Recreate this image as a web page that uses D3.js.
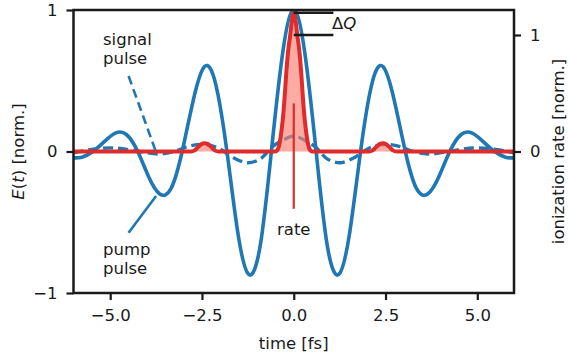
<!DOCTYPE html>
<html><head><meta charset="utf-8">
<script src="https://cdn.jsdelivr.net/npm/d3@7"></script>
<style>
body{margin:0;background:#fff}
svg{display:block}
text{font-family:"DejaVu Sans",sans-serif;fill:#1a1a1a}
</style>
</head><body>
<svg id="c" width="568" height="357"></svg>
<script>
// ---- data ----
const pumpTime  = [-6.0,-5.77,-5.47,-5.16,-4.86,-4.56,-4.25,-3.95,-3.65,-3.34,-3.04,-2.73,-2.43,-2.13,-1.82,-1.52,-1.22,-0.91,-0.61,-0.30,0,
                   0.30,0.61,0.91,1.22,1.52,1.82,2.13,2.43,2.73,3.04,3.34,3.65,3.95,4.25,4.56,4.86,5.16,5.47,5.77,6.0];
const pumpField = [-0.045,-0.04,0,0.07,0.13,0.12,0,-0.18,-0.30,-0.26,0,0.37,0.60,0.48,0,-0.58,-0.87,-0.66,0,0.70,1.0,
                   0.70,0,-0.66,-0.87,-0.58,0,0.48,0.60,0.37,0,-0.26,-0.30,-0.18,0,0.12,0.13,0.07,0,-0.04,-0.045];

const signalTime  = [-6.0,-5.5,-4.9,-4.2,-3.65,-3.2,-2.9,-2.5,-2.1,-1.9,-1.6,-1.25,-0.9,-0.6,-0.3,0,
                     0.3,0.6,0.9,1.25,1.6,1.9,2.1,2.5,2.9,3.2,3.65,4.2,4.9,5.5,6.0];
const signalField = [-0.01,0.015,0.025,0.0,-0.018,0.005,0.035,0.05,0.03,0.0,-0.05,-0.08,-0.05,0.03,0.08,0.11,
                     0.08,0.03,-0.05,-0.08,-0.05,0.0,0.03,0.05,0.035,0.005,-0.018,0.0,0.025,0.015,-0.01];

const rateTime  = [-6.0,-2.8,-2.7,-2.6,-2.5,-2.43,-2.35,-2.25,-2.15,-2.05,-0.5,-0.45,-0.4,-0.35,-0.3,-0.25,-0.2,-0.15,-0.1,-0.05,0,
                   0.05,0.1,0.15,0.2,0.25,0.3,0.35,0.4,0.45,0.5,2.05,2.15,2.25,2.35,2.43,2.5,2.6,2.7,2.8,6.0];
const rateValue = [0,0,0.01,0.04,0.065,0.07,0.065,0.04,0.01,0,0,0.01,0.05,0.14,0.27,0.46,0.69,0.87,0.99,1.12,1.19,
                   1.12,0.99,0.87,0.69,0.46,0.27,0.14,0.05,0.01,0,0,0.01,0.04,0.065,0.07,0.065,0.04,0.01,0,0];

const xTicks = [-5,-2.5,0,2.5,5];
const xTickLabels = ["−5.0","−2.5","0.0","2.5","5.0"];
const yLeftTicks = [-1,0,1];
const yLeftTickLabels = ["−1","0","1"];
const yRightTicks = [0,1];
const yRightTickLabels = ["0","1"];
const deltaQ = [1.0, 1.19];   // rate levels marked by ΔQ

// ---- layout ----
const svg = d3.select("#c");
const P = {left:73.5, right:514, top:10, bottom:293};
const x  = d3.scaleLinear().domain([-6,6]).range([P.left,P.right]);
const yL = d3.scaleLinear().domain([-1,1]).range([P.bottom,P.top]);
const yR = d3.scaleLinear().domain([-1.2146,1.2146]).range([P.bottom,P.top]);

const blue = "#1f77b4", red = "#df2b2b", ink = "#1a1a1a";
const FS = 16.5;

svg.append("defs").append("clipPath").attr("id","clip")
  .append("rect").attr("x",P.left).attr("y",P.top).attr("width",P.right-P.left).attr("height",P.bottom-P.top);
const g = svg.append("g").attr("clip-path","url(#clip)");

const pump = pumpTime.map((t,i)=>[t,pumpField[i]]);
const sig  = signalTime.map((t,i)=>[t,signalField[i]]);
const rate = rateTime.map((t,i)=>[t,rateValue[i]]);

g.append("path").datum(pump)
  .attr("d", d3.line().x(d=>x(d[0])).y(d=>yL(d[1])).curve(d3.curveNatural))
  .attr("fill","none").attr("stroke",blue).attr("stroke-width",3.6);

g.append("path").datum(sig)
  .attr("d", d3.line().x(d=>x(d[0])).y(d=>yL(d[1])).curve(d3.curveCatmullRom))
  .attr("fill","none").attr("stroke",blue).attr("stroke-width",3.4).attr("stroke-dasharray","10,5");

g.append("path").datum(rate)
  .attr("d", d3.area().x(d=>x(d[0])).y0(yR(0)).y1(d=>yR(d[1])).curve(d3.curveMonotoneX))
  .attr("fill","#fa8072").attr("fill-opacity",0.65);

g.append("path").datum(rate)
  .attr("d", d3.line().x(d=>x(d[0])).y(d=>yR(d[1])).curve(d3.curveMonotoneX))
  .attr("fill","none").attr("stroke",red).attr("stroke-width",4).attr("stroke-linejoin","round");

// ---- annotations ----
svg.append("line").attr("x1",x(0)).attr("x2",x(0)).attr("y1",yL(0.34)).attr("y2",yL(-0.405))
  .attr("stroke",red).attr("stroke-width",2.2);
svg.append("text").attr("x",x(0)).attr("y",235).attr("text-anchor","middle").attr("font-size",FS).text("rate");

deltaQ.forEach(v=>{
  svg.append("line").attr("x1",x(0)).attr("x2",x(1.08)).attr("y1",yR(v)).attr("y2",yR(v))
    .attr("stroke",ink).attr("stroke-width",2.5);
});
const dq = svg.append("text").attr("x",332).attr("y",29).attr("font-size",FS);
dq.append("tspan").text("Δ");
dq.append("tspan").attr("font-style","italic").text("Q");

const st = svg.append("text").attr("x",103).attr("font-size",FS);
st.append("tspan").attr("x",103).attr("y",44.5).text("signal");
st.append("tspan").attr("x",103).attr("y",63.5).text("pulse");
svg.append("line").attr("x1",x(-4.5)).attr("y1",yL(0.534)).attr("x2",x(-3.77)).attr("y2",yL(0.01))
  .attr("stroke",blue).attr("stroke-width",2.6).attr("stroke-dasharray","9,5");

const pt = svg.append("text").attr("x",103).attr("font-size",FS);
pt.append("tspan").attr("x",103).attr("y",255).text("pump");
pt.append("tspan").attr("x",103).attr("y",274).text("pulse");
svg.append("line").attr("x1",x(-4.5)).attr("y1",yL(-0.574)).attr("x2",x(-3.75)).attr("y2",yL(-0.314))
  .attr("stroke",blue).attr("stroke-width",2.6);

// ---- axes ----
function styleAxis(sel){
  sel.select(".domain").remove();
  sel.selectAll(".tick line").attr("stroke",ink).attr("stroke-width",2.2);
  sel.selectAll(".tick text").attr("font-size",FS).attr("fill",ink).attr("font-family","DejaVu Sans");
}
svg.append("g").attr("transform",`translate(0,${P.bottom})`)
  .call(d3.axisBottom(x).tickValues(xTicks).tickFormat((d,i)=>xTickLabels[i]).tickSize(7).tickPadding(9))
  .call(styleAxis);
svg.append("g").attr("transform",`translate(${P.left},0)`)
  .call(d3.axisLeft(yL).tickValues(yLeftTicks).tickFormat((d,i)=>yLeftTickLabels[i]).tickSize(7).tickPadding(9))
  .call(styleAxis);
svg.append("g").attr("transform",`translate(${P.right},0)`)
  .call(d3.axisRight(yR).tickValues(yRightTicks).tickFormat((d,i)=>yRightTickLabels[i]).tickSize(7).tickPadding(9))
  .call(styleAxis);

svg.append("rect").attr("x",P.left).attr("y",P.top).attr("width",P.right-P.left).attr("height",P.bottom-P.top)
  .attr("fill","none").attr("stroke",ink).attr("stroke-width",2.5);

svg.append("text").attr("x",x(0)).attr("y",349).attr("text-anchor","middle").attr("font-size",FS).text("time [fs]");
const yl = svg.append("text").attr("transform",`translate(24,${(P.top+P.bottom)/2}) rotate(-90)`)
  .attr("text-anchor","middle").attr("font-size",FS);
yl.append("tspan").attr("font-style","italic").text("E");
yl.append("tspan").text("(");
yl.append("tspan").attr("font-style","italic").text("t");
yl.append("tspan").text(") [norm.]");
svg.append("text").attr("transform",`translate(564,${(P.top+P.bottom)/2}) rotate(-90)`)
  .attr("text-anchor","middle").attr("font-size",FS).text("ionization rate [norm.]");
</script>
</body></html>
